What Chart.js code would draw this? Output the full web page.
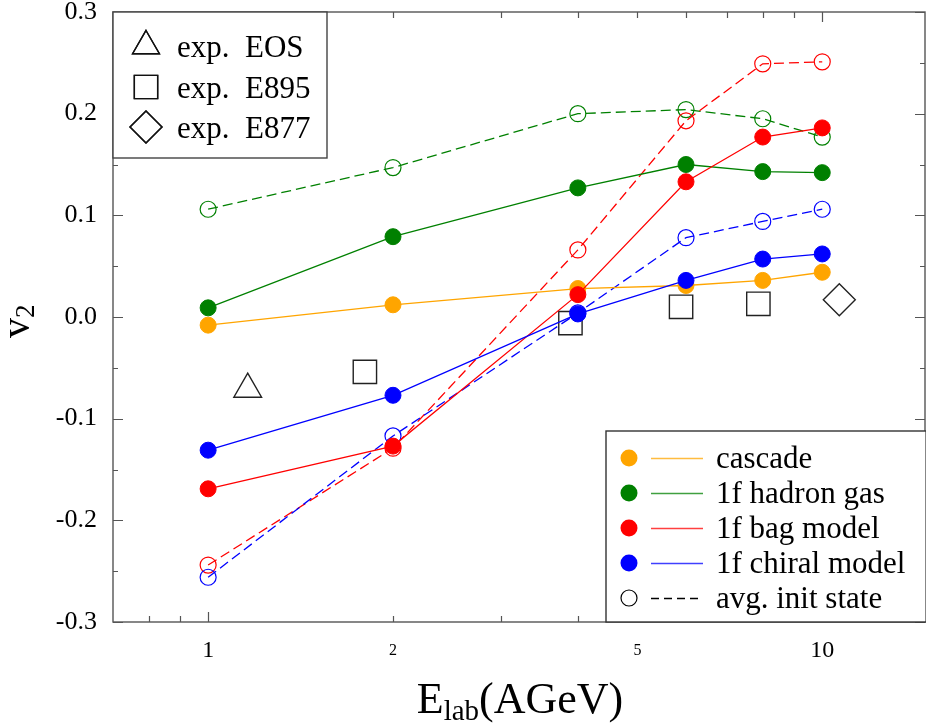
<!DOCTYPE html>
<html>
<head>
<meta charset="utf-8">
<script src="https://cdn.jsdelivr.net/npm/chart.js@4.4.1/dist/chart.umd.min.js"></script>
<style>
  body { margin: 0; background: #fff; }
  canvas { display: block; }
</style>
</head>
<body>
<canvas id="v2Chart" width="926" height="725"></canvas>
<script>
// beam energies (AGeV) of the model runs
var energies = [1, 2, 4, 6, 8, 10];

// v2 values, solid lines (full model)
var cascade = [-0.008, 0.012, 0.028, 0.031, 0.036, 0.044];
var hadronGas = [0.009, 0.079, 0.127, 0.150, 0.143, 0.142];
var bagModel = [-0.169, -0.127, 0.022, 0.133, 0.177, 0.186];
var chiralModel = [-0.131, -0.077, 0.003, 0.036, 0.057, 0.062];

// v2 values, dashed lines (avg. init state)
var hadronGasInit = [0.106, 0.147, 0.200, 0.204, 0.195, 0.177];
var bagModelInit = [-0.244, -0.129, 0.066, 0.193, 0.249, 0.251];
var chiralModelInit = [-0.256, -0.117, 0.004, 0.078, 0.094, 0.106];

// experiments
var eosE = [1.16];
var eosV = [-0.071];
var e895E = [1.80, 3.89, 5.89, 7.87];
var e895V = [-0.054, -0.006, 0.010, 0.013];
var e877E = [10.66];
var e877V = [0.017];

// axis ticks
var xTickLabels = [1, 2, 5, 10];
var xBigTicks = [1, 10];
var xSmallTicks = [0.8, 0.9, 2, 3, 4, 5, 6, 7, 8, 9];
var yTickLabels = [-0.3, -0.2, -0.1, 0.0, 0.1, 0.2, 0.3];
var yMinorTicks = [-0.25, -0.15, -0.05, 0.05, 0.15, 0.25];

var SERIF = "'Liberation Serif', 'DejaVu Serif', serif";

function points(xs, ys) {
    var out = [];
    for (var i = 0; i < xs.length; i++) {
        out.push({x: xs[i], y: ys[i]});
    }
    return out;
}

function solidSet(label, values, color, order) {
    return {
        label: label,
        data: points(energies, values),
        showLine: true,
        borderColor: color,
        backgroundColor: color,
        borderWidth: 1.3,
        pointRadius: 8,
        pointBorderWidth: 1,
        pointBorderColor: color,
        pointBackgroundColor: color,
        order: order
    };
}

function dashedSet(label, values, color, order) {
    return {
        label: label,
        data: points(energies, values),
        showLine: true,
        borderColor: color,
        borderWidth: 1.3,
        borderDash: [10, 5],
        pointRadius: 8,
        pointBorderWidth: 1.2,
        pointBorderColor: color,
        pointBackgroundColor: 'rgba(0,0,0,0)',
        order: order
    };
}

function expSet(label, xs, ys, style, radius, order) {
    return {
        label: label,
        data: points(xs, ys),
        showLine: false,
        pointStyle: style,
        pointRadius: radius,
        pointBorderWidth: 1.4,
        pointBorderColor: '#222',
        pointBackgroundColor: 'rgba(0,0,0,0)',
        order: order
    };
}

function noPadding(scale) {
    scale.paddingTop = 0;
    scale.paddingBottom = 0;
    scale.paddingLeft = 0;
    scale.paddingRight = 0;
}

// frame, inward ticks, axis titles and the two legend boxes
var decorations = {
    id: 'decorations',
    afterDraw: function (chart) {
        var ctx = chart.ctx;
        var a = chart.chartArea;
        var xs = chart.scales.x;
        var ys = chart.scales.y;
        ctx.save();

        ctx.strokeStyle = '#555';
        ctx.lineWidth = 1.4;
        ctx.strokeRect(a.left, a.top, a.right - a.left, a.bottom - a.top);

        ctx.lineWidth = 1.2;
        ctx.beginPath();
        xBigTicks.concat(xSmallTicks).forEach(function (v) {
            var len = xBigTicks.indexOf(v) >= 0 ? 10 : 6;
            var px = Math.round(xs.getPixelForValue(v)) + 0.5;
            ctx.moveTo(px, a.bottom);
            ctx.lineTo(px, a.bottom - len);
            ctx.moveTo(px, a.top);
            ctx.lineTo(px, a.top + len);
        });
        yTickLabels.concat(yMinorTicks).forEach(function (v) {
            var len = yTickLabels.indexOf(v) >= 0 ? 10 : 5;
            var py = Math.round(ys.getPixelForValue(v)) + 0.5;
            ctx.moveTo(a.left, py);
            ctx.lineTo(a.left + len, py);
            ctx.moveTo(a.right, py);
            ctx.lineTo(a.right - len, py);
        });
        ctx.stroke();

        // x title  E_lab(AGeV)
        ctx.fillStyle = '#000';
        ctx.textBaseline = 'alphabetic';
        ctx.textAlign = 'left';
        var big = '44px ' + SERIF;
        var sub = '29px ' + SERIF;
        ctx.font = big;
        var wE = ctx.measureText('E').width;
        var wRest = ctx.measureText('(AGeV)').width;
        ctx.font = sub;
        var wSub = ctx.measureText('lab').width;
        var x0 = 520 - (wE + wSub + wRest) / 2;
        ctx.font = big;
        ctx.fillText('E', x0, 713);
        ctx.font = sub;
        ctx.fillText('lab', x0 + wE, 720);
        ctx.font = big;
        ctx.fillText('(AGeV)', x0 + wE + wSub, 713);

        // y title  v_2
        ctx.save();
        ctx.translate(29, 338);
        ctx.rotate(-Math.PI / 2);
        ctx.font = '40px ' + SERIF;
        ctx.fillText('v', 0, 0);
        var wv = ctx.measureText('v').width;
        ctx.font = '27px ' + SERIF;
        ctx.fillText('2', wv, 5);
        ctx.restore();

        // experiment legend, top left
        ctx.fillStyle = '#fff';
        ctx.fillRect(a.left, a.top, 214, 146);
        ctx.strokeStyle = '#444';
        ctx.lineWidth = 1.4;
        ctx.strokeRect(a.left, a.top, 214, 146);
        var expRows = [
            {text: 'exp.  EOS', style: 'triangle', r: 15.5, y: 46},
            {text: 'exp.  E895', style: 'rect', r: 16.5, y: 87},
            {text: 'exp.  E877', style: 'rectRot', r: 16, y: 127}
        ];
        ctx.font = '31px ' + SERIF;
        expRows.forEach(function (row) {
            ctx.strokeStyle = '#111';
            ctx.fillStyle = 'rgba(0,0,0,0)';
            ctx.lineWidth = 1.4;
            Chart.helpers.drawPoint(ctx, {pointStyle: row.style, radius: row.r, borderWidth: 1.4}, 146, row.y);
            ctx.stroke();
            ctx.fillStyle = '#000';
            ctx.textBaseline = 'middle';
            ctx.fillText(row.text, 177, row.y + 3);
        });

        // model legend, bottom right
        var bx = 606, by = 431;
        ctx.fillStyle = '#fff';
        ctx.fillRect(bx, by, a.right - bx, a.bottom - by);
        ctx.strokeStyle = '#333';
        ctx.lineWidth = 1.4;
        ctx.strokeRect(bx, by, a.right - bx + 2, a.bottom - by);
        var modelRows = [
            {text: 'cascade', color: 'orange', fill: true},
            {text: '1f hadron gas', color: 'green', fill: true},
            {text: '1f bag model', color: 'red', fill: true},
            {text: '1f chiral model', color: 'blue', fill: true},
            {text: 'avg. init state', color: '#000', fill: false}
        ];
        ctx.font = '31px ' + SERIF;
        modelRows.forEach(function (row, i) {
            var ry = 458 + i * 35;
            ctx.beginPath();
            ctx.arc(629, ry, row.fill ? 8.5 : 8, 0, Math.PI * 2);
            if (row.fill) {
                ctx.fillStyle = row.color;
                ctx.fill();
            } else {
                ctx.strokeStyle = row.color;
                ctx.lineWidth = 1.2;
                ctx.stroke();
            }
            ctx.beginPath();
            ctx.strokeStyle = row.color;
            ctx.globalAlpha = row.fill ? 0.75 : 1;
            ctx.lineWidth = 1.3;
            ctx.setLineDash(row.fill ? [] : [8, 5]);
            ctx.moveTo(651, ry + 0.5);
            ctx.lineTo(703, ry + 0.5);
            ctx.stroke();
            ctx.setLineDash([]);
            ctx.globalAlpha = 1;
            ctx.fillStyle = '#000';
            ctx.textBaseline = 'middle';
            ctx.fillText(row.text, 716, ry + 2);
        });

        ctx.restore();
    }
};

var ctx = document.getElementById('v2Chart');
var myChart = new Chart(ctx, {
    type: 'scatter',
    data: {
        datasets: [
            expSet('exp. EOS', eosE, eosV, 'triangle', 16, 10),
            expSet('exp. E895', e895E, e895V, 'rect', 16.5, 9),
            expSet('exp. E877', e877E, e877V, 'rectRot', 16, 8),
            dashedSet('1f hadron gas init', hadronGasInit, 'green', 7),
            dashedSet('1f bag model init', bagModelInit, 'red', 6),
            dashedSet('1f chiral model init', chiralModelInit, 'blue', 5),
            solidSet('cascade', cascade, 'orange', 4),
            solidSet('1f hadron gas', hadronGas, 'green', 3),
            solidSet('1f bag model', bagModel, 'red', 2),
            solidSet('1f chiral model', chiralModel, 'blue', 1)
        ]
    },
    options: {
        responsive: false,
        animation: false,
        layout: {autoPadding: false, padding: {top: 12, right: 1, left: 0, bottom: 0}},
        plugins: {
            legend: {display: false},
            tooltip: {enabled: false}
        },
        scales: {
            x: {
                type: 'logarithmic',
                min: 0.7,
                max: 14.7,
                grid: {display: false, drawTicks: false},
                border: {display: false},
                afterBuildTicks: function (scale) {
                    scale.ticks = xTickLabels.map(function (v) { return {value: v}; });
                },
                afterFit: function (scale) {
                    scale.height = 103;
                    noPadding(scale);
                },
                ticks: {
                    autoSkip: false,
                    maxRotation: 0,
                    padding: 14,
                    color: '#000',
                    callback: function (v) { return String(v); },
                    font: function (c) {
                        var isBig = c.tick && xBigTicks.indexOf(c.tick.value) >= 0;
                        return isBig ? {family: SERIF, size: 24, lineHeight: 1.2}
                                     : {family: SERIF, size: 16, lineHeight: 1.8};
                    }
                }
            },
            y: {
                min: -0.3,
                max: 0.3,
                grid: {display: false, drawTicks: false},
                border: {display: false},
                afterBuildTicks: function (scale) {
                    scale.ticks = yTickLabels.map(function (v) { return {value: v}; });
                },
                afterFit: function (scale) {
                    scale.width = 113;
                    noPadding(scale);
                },
                ticks: {
                    padding: 16,
                    color: '#000',
                    font: {family: SERIF, size: 26},
                    callback: function (v) { return v.toFixed(1); }
                }
            }
        }
    },
    plugins: [decorations]
});
</script>
</body>
</html>
